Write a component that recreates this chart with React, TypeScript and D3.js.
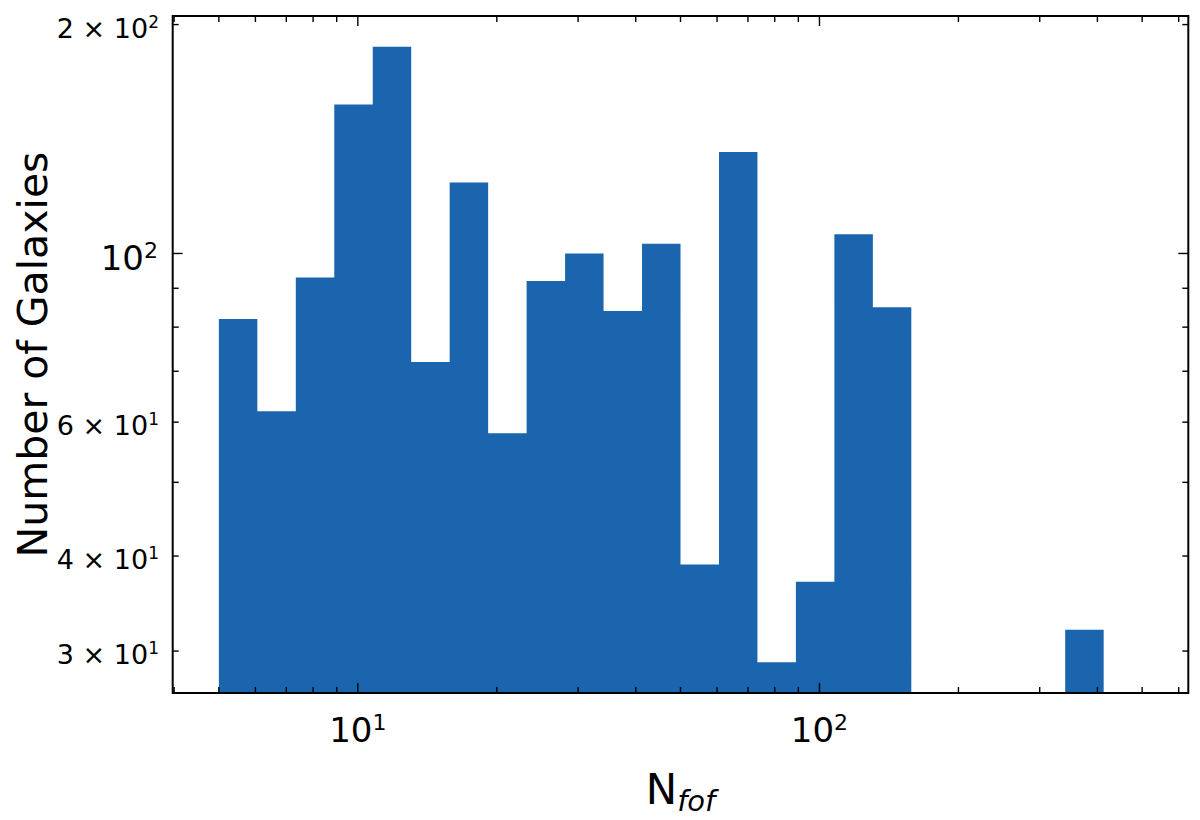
import React from 'react';
import * as d3 from 'd3';

// Histogram bin edges (log-spaced) and counts per bin
const binEdges = [5, 6.058, 7.339, 8.891, 10.772, 13.051, 15.811, 19.156, 23.208, 28.117, 34.065, 41.27, 50, 60.58, 73.39, 88.91, 107.72, 130.51, 158.11, 191.56, 232.08, 281.17, 340.65, 412.7, 500];
const counts = [82, 62, 93, 157, 187, 72, 124, 58, 92, 100, 84, 103, 39, 136, 29, 37, 106, 85, 0, 0, 0, 0, 32, 0];

const xMajorTicks = [10, 100];
const xMinorTicks = [4, 5, 6, 7, 8, 9, 20, 30, 40, 50, 60, 70, 80, 90, 200, 300, 400, 500, 600];
const xTickLabels = [{ v: 10, base: '10', exp: '1' }, { v: 100, base: '10', exp: '2' }];

const yMajorTicks = [100];
const yMinorTicks = [30, 40, 50, 60, 70, 80, 90, 200];
const yMajorLabels = [{ v: 100, base: '10', exp: '2' }];
const yMinorLabels = [
  { v: 200, base: '2 × 10', exp: '2' },
  { v: 60, base: '6 × 10', exp: '1' },
  { v: 40, base: '4 × 10', exp: '1' },
  { v: 30, base: '3 × 10', exp: '1' },
];

const BAR_COLOR = '#1b65ae';
const FONT = 'DejaVu Sans, sans-serif';

export default function App() {
  const W = 1200, H = 820;
  const left = 172.7, right = 1188.3, top = 16, bottom = 693;

  const lx0 = Math.log10(binEdges[0]);
  const lx1 = Math.log10(binEdges[binEdges.length - 1]);
  const mx = 0.05 * (lx1 - lx0);
  const x = d3.scaleLog().domain([10 ** (lx0 - mx), 10 ** (lx1 + mx)]).range([left, right]);

  const nz = counts.filter((c) => c > 0);
  const ly0 = Math.log10(d3.min(nz) as number);
  const ly1 = Math.log10(d3.max(nz) as number);
  const my = 0.05 * (ly1 - ly0);
  const y = d3.scaleLog().domain([10 ** (ly0 - my), 10 ** (ly1 + my)]).range([bottom, top]);

  const majLen = 10, minLen = 6;
  const tickW = 1.4;

  const bars = counts.map((c, i) => ({ c, x0: binEdges[i], x1: binEdges[i + 1] })).filter((b) => b.c > 0);
  const p = d3.path();
  bars.forEach((b) => {
    p.rect(x(b.x0), y(b.c), x(b.x1) - x(b.x0), bottom - y(b.c));
  });

  return (
    <div style={{ position: 'absolute', left: 0, top: 0 }}>
      <svg width={W} height={H} style={{ display: 'block', background: '#fff' }}>
        <rect x={0} y={0} width={W} height={H} fill="#fff" />
        <path d={p.toString()} fill={BAR_COLOR} fillRule="nonzero" />

        {/* x ticks bottom & top */}
        {xMajorTicks.map((v) => (
          <g key={'xM' + v} stroke="#000" strokeWidth={tickW}>
            <line x1={x(v)} x2={x(v)} y1={bottom} y2={bottom - majLen} />
            <line x1={x(v)} x2={x(v)} y1={top} y2={top + majLen} />
          </g>
        ))}
        {xMinorTicks.map((v) => (
          <g key={'xm' + v} stroke="#000" strokeWidth={tickW}>
            <line x1={x(v)} x2={x(v)} y1={bottom} y2={bottom - minLen} />
            <line x1={x(v)} x2={x(v)} y1={top} y2={top + minLen} />
          </g>
        ))}
        {/* y ticks left & right */}
        {yMajorTicks.map((v) => (
          <g key={'yM' + v} stroke="#000" strokeWidth={tickW}>
            <line x1={left} x2={left + majLen} y1={y(v)} y2={y(v)} />
            <line x1={right} x2={right - majLen} y1={y(v)} y2={y(v)} />
          </g>
        ))}
        {yMinorTicks.map((v) => (
          <g key={'ym' + v} stroke="#000" strokeWidth={tickW}>
            <line x1={left} x2={left + minLen} y1={y(v)} y2={y(v)} />
            <line x1={right} x2={right - minLen} y1={y(v)} y2={y(v)} />
          </g>
        ))}

        {/* frame */}
        <rect x={left} y={top} width={right - left} height={bottom - top} fill="none" stroke="#000" strokeWidth={2} />

        {/* x tick labels */}
        {xTickLabels.map((t) => (
          <text key={'xl' + t.v} x={x(t.v)} y={742} textAnchor="middle" fontFamily={FONT} fontSize={34} fill="#000">
            {t.base}
            <tspan fontSize={22} dy={-12}>{t.exp}</tspan>
          </text>
        ))}

        {/* y tick labels */}
        {yMajorLabels.map((t) => (
          <text key={'yl' + t.v} x={158} y={y(t.v) + 17} textAnchor="end" fontFamily={FONT} fontSize={34} fill="#000">
            {t.base}
            <tspan fontSize={22} dy={-12}>{t.exp}</tspan>
          </text>
        ))}
        {yMinorLabels.map((t) => (
          <text key={'ylm' + t.v} x={159} y={y(t.v) + 13} textAnchor="end" fontFamily={FONT} fontSize={27} fill="#000">
            {t.base}
            <tspan fontSize={17} dy={-10}>{t.exp}</tspan>
          </text>
        ))}

        {/* axis labels */}
        <text x={(left + right) / 2} y={804} textAnchor="middle" fontFamily={FONT} fontSize={42} fill="#000">
          N
          <tspan fontSize={29} fontStyle="italic" dy={7}>fof</tspan>
        </text>
        <text transform={`translate(47, ${(top + bottom) / 2}) rotate(-90)`} textAnchor="middle" fontFamily={FONT} fontSize={41} fill="#000">
          Number of Galaxies
        </text>
      </svg>
    </div>
  );
}
